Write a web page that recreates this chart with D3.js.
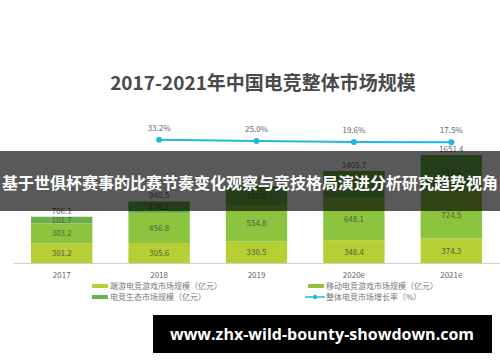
<!DOCTYPE html>
<html>
<head>
<meta charset="utf-8">
<script src="https://cdn.jsdelivr.net/npm/d3@7"></script>
<style>
  body { margin: 0; background: #fff; }
  svg { display: block; font-family: "Noto Sans CJK SC", "Noto Sans", sans-serif; }
</style>
</head>
<body>
<div id="chart"></div>
<script>
// chart data
const years = ['2017', '2018', '2019', '2020e', '2021e'];
const pcGame = [301.2, 305.6, 330.5, 348.4, 374.3];
const mobileGame = [303.2, 456.8, 554.8, 648.1, 724.5];
const ecosystem = [101.7, 178.1, 290.0, 409.2, 552.6];
const growthYears = ['2018', '2019', '2020e', '2021e'];
const growthRate = [33.2, 25.0, 19.6, 17.5];
const seriesNames = ['端游电竞游戏市场规模（亿元）', '移动电竞游戏市场规模（亿元）', '电竞生态市场规模（亿元）', '整体电竞市场增长率（%）'];

const colors = ['#b6cf34', '#8cc440', '#6cb24a'];
const lineColor = '#22b5e3';

const W = 500, H = 362;
const svg = d3.select('#chart').append('svg').attr('width', W).attr('height', H);

// title
svg.append('text')
  .attr('x', 263).attr('y', 90)
  .attr('text-anchor', 'middle')
  .attr('font-size', 19).attr('font-weight', 'bold')
  .attr('fill', '#4a4a4a')
  .text('2017-2021年中国电竞整体市场规模');

const x = d3.scaleBand().domain(years).range([13, 500]).paddingInner(0.37).paddingOuter(0.185);
const y = d3.scaleLinear().domain([0, 1800]).range([263, 263 - 1800 * 0.0655]);
const yRate = d3.scaleLinear().domain([0, 40]).range([145.1, 138.7]);

// stacked bars
const rows = years.map((yr, i) => ({ year: yr, a: pcGame[i], b: mobileGame[i], c: ecosystem[i] }));
const stack = d3.stack().keys(['a', 'b', 'c'])(rows);

const layers = svg.append('g').selectAll('g').data(stack).enter().append('g')
  .attr('fill', (d, i) => colors[i]);

layers.selectAll('rect').data(d => d).enter().append('rect')
  .attr('x', d => x(d.data.year))
  .attr('width', x.bandwidth())
  .attr('y', d => y(d[1]))
  .attr('height', d => y(d[0]) - y(d[1]));

layers.selectAll('text').data(d => d).enter().append('text')
  .attr('x', d => x(d.data.year) + x.bandwidth() / 2)
  .attr('y', d => (y(d[0]) + y(d[1])) / 2 + 3)
  .attr('text-anchor', 'middle')
  .attr('font-size', 8)
  .attr('fill', '#55603a')
  .text(d => (d[1] - d[0]).toFixed(1));

// totals
svg.append('g').selectAll('text').data(rows).enter().append('text')
  .attr('x', d => x(d.year) + x.bandwidth() / 2)
  .attr('y', d => y(d.a + d.b + d.c) - 3)
  .attr('text-anchor', 'middle')
  .attr('font-size', 8)
  .attr('fill', '#666')
  .text(d => (d.a + d.b + d.c).toFixed(1));

// axis
const xAxis = svg.append('g').attr('transform', 'translate(0,263)')
  .call(d3.axisBottom(x).tickSize(0).tickPadding(9));
xAxis.select('.domain').attr('stroke', '#cfcfcf').attr('stroke-width', 1.2);
xAxis.selectAll('text').attr('font-size', 8).attr('fill', '#666')
  .attr('font-family', '"Noto Sans CJK SC", sans-serif');

// growth line
const cx = d => x(d) + x.bandwidth() / 2;
const line = d3.line().x((d, i) => cx(growthYears[i])).y(d => yRate(d));
svg.append('path').datum(growthRate)
  .attr('d', line).attr('fill', 'none')
  .attr('stroke', lineColor).attr('stroke-width', 2);
svg.append('g').selectAll('circle').data(growthRate).enter().append('circle')
  .attr('cx', (d, i) => cx(growthYears[i]))
  .attr('cy', d => yRate(d))
  .attr('r', 3).attr('fill', lineColor);
svg.append('g').selectAll('text').data(growthRate).enter().append('text')
  .attr('x', (d, i) => cx(growthYears[i]))
  .attr('y', d => yRate(d) - 9)
  .attr('text-anchor', 'middle')
  .attr('font-size', 8).attr('fill', '#666')
  .text(d => d.toFixed(1) + '%');

// legend
const legendPos = [[92, 286], [308, 286], [92, 297], [305, 297]];
const legend = svg.append('g').selectAll('g').data(seriesNames).enter().append('g')
  .attr('transform', (d, i) => 'translate(' + legendPos[i][0] + ',' + legendPos[i][1] + ')');
legend.each(function(d, i) {
  const g = d3.select(this);
  if (i < 3) {
    g.append('rect').attr('x', 0).attr('y', -2).attr('width', 16).attr('height', 4).attr('fill', colors[i]);
    g.append('text').attr('x', 18).attr('y', 3).attr('font-size', 8).attr('fill', '#777').text(d);
  } else {
    g.append('line').attr('x1', 0).attr('x2', 20).attr('stroke', lineColor).attr('stroke-width', 1.5);
    g.append('circle').attr('cx', 10).attr('r', 2.2).attr('fill', lineColor);
    g.append('text').attr('x', 21).attr('y', 3).attr('font-size', 8).attr('fill', '#777').text(d);
  }
});

// overlay banners
svg.append('rect').attr('x', 0).attr('y', 151).attr('width', W).attr('height', 60)
  .attr('fill', 'rgba(0,0,0,0.65)');
svg.append('text')
  .attr('x', 250).attr('y', 189)
  .attr('text-anchor', 'middle')
  .attr('font-size', 16).attr('font-weight', 'bold').attr('fill', '#fff')
  .text('基于世俱杯赛事的比赛节奏变化观察与竞技格局演进分析研究趋势视角');

svg.append('rect').attr('x', 153).attr('y', 315).attr('width', 339).attr('height', 38).attr('fill', '#000');
svg.append('text')
  .attr('x', 322).attr('y', 340)
  .attr('text-anchor', 'middle')
  .attr('font-size', 16).attr('font-weight', 'bold').attr('fill', '#fff')
  .attr('font-family', '"Open Sans", "Noto Sans", sans-serif')
  .text('www.zhx-wild-bounty-showdown.com');
</script>
</body>
</html>
